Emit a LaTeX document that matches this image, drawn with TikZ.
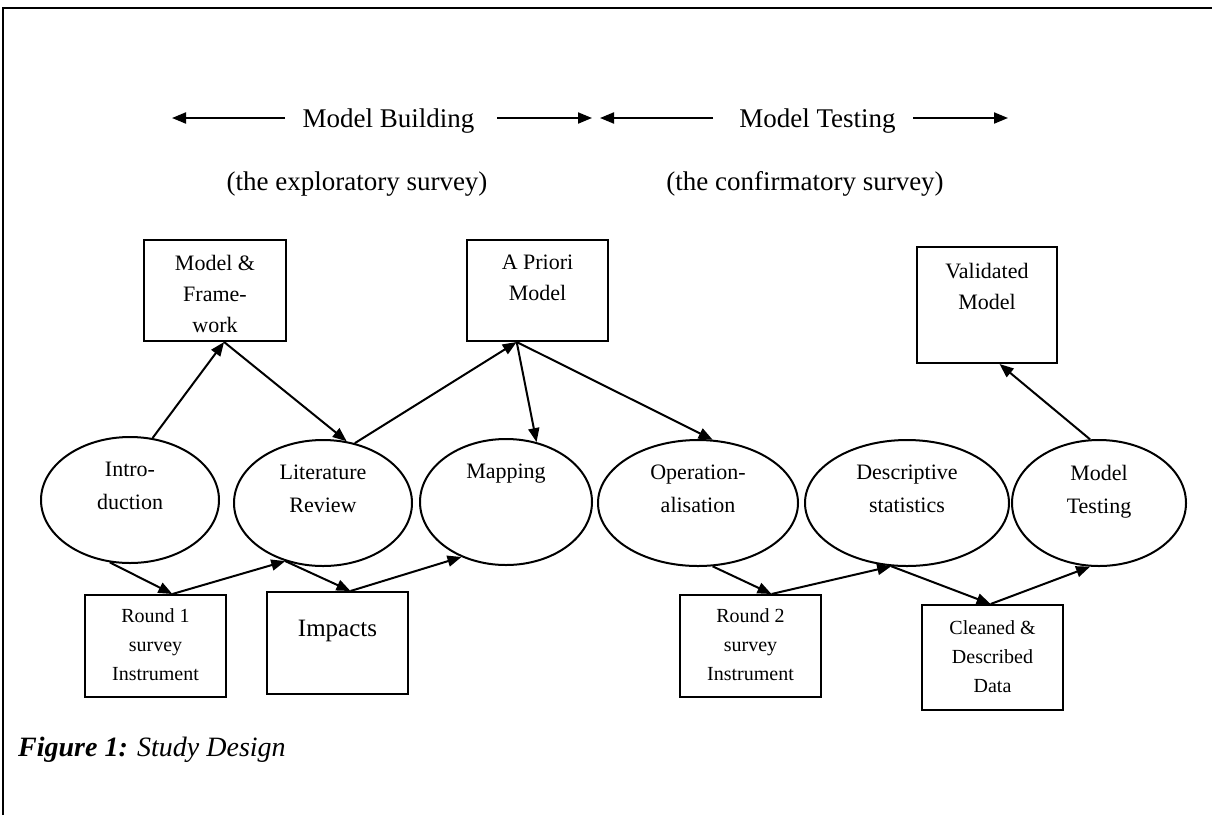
\documentclass[tikz,border=0pt]{standalone}
\usepackage{fontspec}
\setmainfont{Liberation Serif}
\usetikzlibrary{arrows.meta,shapes.geometric}
\begin{document}
\begin{tikzpicture}[x=1pt,y=-1pt,
  arr/.style={-{Triangle[length=14pt,width=11pt]}, line width=2pt},
  box/.style={draw, rectangle, line width=2pt, inner sep=0pt},
  oval/.style={draw, ellipse, line width=2pt, inner sep=0pt},
  txt/.style={font=\fontsize{22}{31}\selectfont, align=center, inner sep=0pt, anchor=north},
  otxt/.style={font=\fontsize{22}{33}\selectfont, align=center, inner sep=0pt, anchor=north},
  stxt/.style={font=\fontsize{20}{29}\selectfont, align=center, inner sep=0pt, anchor=north},
  hdr/.style={font=\fontsize{27}{30}\selectfont, inner sep=0pt, anchor=base},
]
\useasboundingbox (0,0) rectangle (1212,815);
% frame
\draw[line width=2.2pt] (3,815) -- (3,8) -- (1212,8);

% header
\node[hdr] (mb) at (388.5,127) {Model Building};
\node[hdr] (mt0) at (817.5,127) {Model Testing};
\node[hdr] (es) at (357,190) {(the exploratory survey)};
\node[hdr] (cs) at (805,190) {(the confirmatory survey)};
\coordinate (a1s) at (285,118); \coordinate (a1e) at (172,118);
\coordinate (a2s) at (497,118); \coordinate (a2e) at (592,118);
\coordinate (a3s) at (713,118); \coordinate (a3e) at (600,118);
\coordinate (a4s) at (913,118); \coordinate (a4e) at (1008,118);
\draw[arr] (a1s) -- (a1e);
\draw[arr] (a2s) -- (a2e);
\draw[arr] (a3s) -- (a3e);
\draw[arr] (a4s) -- (a4e);

% top boxes
\node[box, minimum width=142pt, minimum height=101pt,
  label={[txt, yshift=-16pt]north:Model \&\\Frame-\\work}] (mf) at (215,290.5) {};
\node[box, minimum width=141pt, minimum height=101pt,
  label={[txt, yshift=-16pt]north:A Priori\\Model}] (ap) at (537.5,290.5) {};
\node[box, minimum width=140pt, minimum height=116pt,
  label={[txt, yshift=-17pt]north:Validated\\Model}] (val) at (987,305) {};

% ellipses
\node[oval, minimum width=178pt, minimum height=126pt,
  label={[otxt, yshift=-26pt]north:Intro-\\duction}] (intro) at (130,500) {};
\node[oval, minimum width=178pt, minimum height=126pt,
  label={[otxt, yshift=-26pt]north:Literature\\Review}] (lit) at (323,503) {};
\node[oval, minimum width=172pt, minimum height=126pt,
  label={[otxt, yshift=-26pt]north:Mapping}] (map) at (506,502) {};
\node[oval, minimum width=200pt, minimum height=126pt,
  label={[otxt, yshift=-26pt]north:Operation-\\alisation}] (op) at (698,503) {};
\node[oval, minimum width=204pt, minimum height=126pt,
  label={[otxt, yshift=-26pt]north:Descriptive\\statistics}] (desc) at (907,503) {};
\node[oval, minimum width=174pt, minimum height=126pt,
  label={[otxt, yshift=-26pt]north:Model\\Testing}] (mt) at (1099,503) {};

% bottom boxes
\node[box, minimum width=141pt, minimum height=102pt,
  label={[stxt, yshift=-14pt]north:Round 1\\survey\\Instrument}] (r1) at (155.5,646) {};
\node[box, minimum width=141pt, minimum height=102pt,
  label={[font=\fontsize{25}{30}\selectfont, inner sep=0pt, anchor=north, yshift=-29pt]north:Impacts}] (imp) at (337.5,643) {};
\node[box, minimum width=141pt, minimum height=102pt,
  label={[stxt, yshift=-14pt]north:Round 2\\survey\\Instrument}] (r2) at (750.5,646) {};
\node[box, minimum width=141pt, minimum height=105pt,
  label={[stxt, yshift=-16pt]north:Cleaned \&\\Described\\Data}] (cl) at (992.5,657.5) {};

% connectors
\draw[arr] (intro.70) -- (mf.-80);
\draw[arr] (mf.-80) -- (lit.69);
\draw[arr] (lit.62) -- (ap.-112);
\draw[arr] (ap.-112) -- (map.63);
\draw[arr] (ap.-112) -- (op.77);
\draw[arr] (mt.98) -- (val.-78);
\draw[arr] (intro.-108) -- (r1.72);
\draw[arr] (r1.72) -- (lit.-123);
\draw[arr] (lit.-123) -- (imp.76);
\draw[arr] (imp.76) -- (map.-129);
\draw[arr] (op.-77) -- (r2.68);
\draw[arr] (r2.68) -- (desc.-104);
\draw[arr] (desc.-104) -- (cl.92);
\draw[arr] (cl.92) -- (mt.-98);

% caption
\node[font=\fontsize{28}{30}\selectfont, inner sep=0pt, anchor=base west] (cap) at (18,756)
  {\textbf{\textit{Figure 1:}} \textit{Study Design}};
\end{tikzpicture}
\end{document}
